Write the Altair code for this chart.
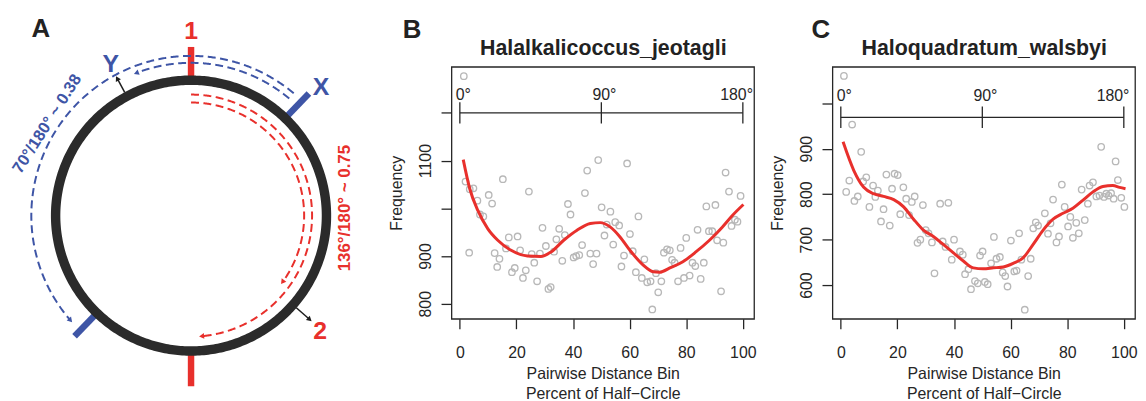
import altair as alt
import pandas as pd

FONT = "Liberation Sans"
INK = "#262626"
GRAY = "#B8B8B8"
RED = "#E8302C"
BLUE = "#3E55A6"
RING = "#2B2B2B"

# ---------------- Panel B : Halalkalicoccus_jeotagli ----------------
B_BIN = [1.4, 2.0, 3.3, 3.5, 4.8, 6.2, 7.1, 8.3, 10.2, 11.4, 12.3, 13.2, 14.0, 15.2, 16.3, 17.3, 18.4, 19.4,
         20.4, 21.3, 22.3, 23.3, 24.4, 25.4, 26.3, 27.3, 28.3, 29.2, 30.4, 31.3, 32.1, 33.3, 34.1, 35.1, 36.2,
         37.1, 38.2, 39.1, 40.2, 41.1, 42.2, 43.2, 44.2, 45.0, 46.1, 47.1, 48.3, 48.9, 50.1, 51.1, 51.9, 53.2,
         54.2, 54.9, 56.3, 57.1, 58.0, 59.1, 60.1, 61.1, 62.2, 63.1, 64.3, 65.2, 66.2, 67.4, 68.0, 69.3, 70.1,
         71.2, 72.1, 73.2, 74.2, 75.0, 75.9, 77.1, 78.0, 79.2, 80.0, 81.2, 82.2, 83.2, 84.0, 85.1, 86.2, 87.1,
         88.0, 89.2, 90.3, 90.9, 92.3, 93.1, 93.9, 95.1, 96.0, 97.2, 98.1, 99.2]
B_FREQ = [1277, 1056, 907, 1040, 1042, 1016, 987, 983, 1028, 1010, 906, 877, 894, 1061, 916, 939, 866, 875,
          941, 912, 854, 870, 1035, 904, 886, 847, 905, 959, 921, 831, 835, 909, 935, 957, 890,
          944, 1009, 987, 897, 900, 902, 923, 1032, 1079, 905, 883, 905, 1101, 1002, 943, 966, 993,
          924, 971, 964, 878, 901, 1094, 946, 910, 866, 983, 854, 893, 845, 847, 788, 864, 824,
          847, 907, 914, 912, 892, 886, 847, 917, 854, 938, 859, 886, 879, 955, 852, 886, 1004,
          952, 952, 1007, 933, 826, 928, 1075, 1035, 963, 976, 972, 1026]
B_FIT_X = [1.2, 3.5, 6.4, 9.9, 13.4, 18.1, 23.9, 28.6, 32.1, 36.7, 41.4, 46.1, 49.6, 53.1, 56.6, 60.1,
           64.8, 68.3, 70.6, 74.2, 78.8, 83.5, 88.2, 92.8, 96.3, 100.2]
B_FIT_Y = [1102, 1041, 995, 957, 933, 912, 900, 899, 908, 933, 954, 968, 970, 961, 940, 912,
           881, 867, 866, 875, 888, 909, 933, 961, 985, 1008]

# ---------------- Panel C : Haloquadratum_walsbyi ----------------
C_BIN = [1.1, 1.9, 3.0, 4.0, 4.8, 6.0, 7.2, 7.9, 9.0, 10.1, 11.4, 12.2, 13.1, 14.2, 15.1, 16.1, 17.3, 18.1,
         19.0, 20.1, 21.0, 22.1, 23.1, 24.1, 25.1, 26.1, 27.1, 28.1, 29.0, 30.0, 31.0, 32.2, 33.1, 35.1,
         36.0, 37.0, 38.0, 39.2, 40.0, 42.1, 43.1, 43.9, 45.1, 46.0, 47.4, 48.4, 49.2, 50.1, 50.9, 51.9,
         53.1, 54.1, 55.0, 56.2, 57.2, 58.1, 58.9, 60.1, 61.3, 62.1, 63.0, 63.8, 65.0, 66.2, 67.1, 68.0,
         68.9, 69.7, 72.1, 73.2, 74.1, 75.0, 76.2, 77.1, 78.1, 79.1, 80.3, 81.1, 82.0, 83.2, 84.1, 85.1,
         86.2, 87.3, 87.9, 89.1, 90.3, 91.4, 92.0, 93.0, 93.8, 94.6, 95.5, 96.4, 97.1, 97.9, 99.1, 100.2]
C_FREQ = [1060, 805, 830, 953, 785, 795, 893, 828, 837, 772, 819, 794, 808, 740, 767, 843, 731, 812,
          845, 842, 756, 815, 790, 754, 783, 795, 693, 700, 776, 721, 714, 694, 626, 779,
          696, 684, 781, 656, 700, 674, 667, 624, 635, 591, 609, 604, 665, 674, 607, 602,
          648, 706, 658, 662, 628, 620, 597, 698, 630, 632, 714, 656, 546, 620, 658, 725,
          738, 731, 758, 713, 736, 788, 694, 707, 821, 772, 729, 750, 704, 737, 714, 810,
          743, 779, 819, 826, 795, 797, 904, 794, 801, 797, 802, 790, 872, 831, 792, 772]
C_FIT_X = [0.8, 4.6, 8.1, 11.6, 15.1, 18.7, 22.2, 25.7, 29.2, 32.7, 36.3, 39.8, 43.3, 46.8, 50.3, 53.9,
           57.4, 60.9, 64.4, 67.9, 71.5, 75.0, 78.5, 82.0, 85.6, 89.1, 92.6, 96.1, 98.5, 100.6]
C_FIT_Y = [915, 852, 815, 801, 795, 788, 772, 745, 721, 707, 689, 671, 653, 638, 636, 638,
           640, 648, 660, 689, 721, 745, 758, 769, 787, 805, 817, 819, 815, 812]

X_TICKS = [0, 20, 40, 60, 80, 100]
DEG_TICKS = [0, 50, 100]
DEG_LABELS = ["0°", "90°", "180°"]
B_DEG_LABEL_X = [1.2, 51.1, 97.8]
C_DEG_LABEL_X = [1.2, 51.1, 96.2]
B_YTICKS = [800, 900, 1000, 1100, 1200]
B_YSHOWN = [800, 900, 1100]
C_YTICKS = [600, 700, 800, 900, 1000]
C_YSHOWN = [600, 700, 800, 900]

# ---------------- Panel A : circle schematic (angles clockwise from top) ----------------
ARC_R = [136.5, 161, 154, 122, 114]
ARC_START = [0, 40, 40, 0, 0]
ARC_END = [362, -131, -21, 175, 126]
ARC_COLOR = [RING, BLUE, BLUE, RED, RED]
ARC_WIDTH = [9.5, 2, 2, 2, 2]
ARC_HEAD = [False, True, True, True, True]

SEG_DEG = [0, 180, 44, 224]
SEG_R1 = [134, 134, 134, 134]
SEG_R2 = [170, 172, 171, 169]
SEG_COLOR = [RED, RED, BLUE, BLUE]

PTR_DEG = [331.7, 131.2]
PTR_R1 = [141, 141]
PTR_R2 = [157, 159]

TXT = ["1", "2", "X", "Y", "70°/180° ~ 0.38", "136°/180° ~ 0.75"]
TXT_DEG = [0, 131.7, 45.4, 332.1, 302.5, 87.2]
TXT_R = [186.5, 174.2, 183.9, 172.9, 172, 155.2]
TXT_COLOR = [RED, RED, BLUE, BLUE, BLUE, RED]
TXT_SIZE = [25, 25, 25, 25, 16.5, 17]
TXT_ROT = [0, 0, 0, 0, 302.5, 270]

WA, HA = 368, 254
W, H = 305, 254
XDOM = [-2.96, 103.96]

xsA = alt.Scale(domain=[-184.5, 183.5], nice=False, zero=False)
ysA = alt.Scale(domain=[-104, 150], nice=False, zero=False)


def ax(field):
    return alt.X(field, scale=xsA, axis=None)


def ay(field):
    return alt.Y(field, scale=ysA, axis=None)


polar = lambda r, d: (f"datum.{r}*sin(datum.{d}*PI/180)", f"datum.{r}*cos(datum.{d}*PI/180)")

layersA = []
seg_df = pd.DataFrame({"deg": SEG_DEG, "r1": SEG_R1, "r2": SEG_R2, "color": SEG_COLOR})
x1e, y1e = polar("r1", "deg")
x2e, y2e = polar("r2", "deg")
layersA.append(
    alt.Chart(seg_df).transform_calculate(x1=x1e, y1=y1e, x2=x2e, y2=y2e)
    .mark_rule(strokeWidth=6.5, strokeCap="butt")
    .encode(x=ax("x1:Q"), y=ay("y1:Q"), x2="x2:Q", y2="y2:Q", color=alt.Color("color:N", scale=None))
)
for r, s, e, c, w in zip(ARC_R, ARC_START, ARC_END, ARC_COLOR, ARC_WIDTH):
    mk = dict(color=c, strokeWidth=w, strokeCap="butt")
    if w < 5:
        mk["strokeDash"] = [8, 4.5]
    layersA.append(
        alt.Chart(alt.sequence(0, 1.0001, 0.0025, as_="t"))
        .transform_calculate(deg=f"{s} + datum.t*({e} - {s})")
        .transform_calculate(px=f"{r}*sin(datum.deg*PI/180)", py=f"{r}*cos(datum.deg*PI/180)")
        .mark_line(**mk)
        .encode(x=ax("px:Q"), y=ay("py:Q"), order="t:Q")
    )
head_df = pd.DataFrame({"r": ARC_R, "start": ARC_START, "end": ARC_END, "color": ARC_COLOR, "head": ARC_HEAD})
hx, hy = polar("r", "end")
layersA.append(
    alt.Chart(head_df).transform_filter("datum.head")
    .transform_calculate(hx=hx, hy=hy,
                         rot0="datum.end < datum.start ? datum.end - 90 : datum.end + 90")
    .transform_calculate(rot="((datum.rot0 % 360) + 360) % 360")
    .mark_point(shape="triangle-up", filled=True, size=34, opacity=1)
    .encode(x=ax("hx:Q"), y=ay("hy:Q"), color=alt.Color("color:N", scale=None),
            angle=alt.Angle("rot:Q", scale=None))
)
ptr_df = pd.DataFrame({"deg": PTR_DEG, "r1": PTR_R1, "r2": PTR_R2})
layersA.append(
    alt.Chart(ptr_df).transform_calculate(x1=x1e, y1=y1e, x2=x2e, y2=y2e)
    .mark_rule(strokeWidth=1.5, color="#1E1E1E")
    .encode(x=ax("x1:Q"), y=ay("y1:Q"), x2="x2:Q", y2="y2:Q")
)
layersA.append(
    alt.Chart(ptr_df).transform_calculate(x2=x2e, y2=y2e)
    .mark_point(shape="triangle-up", filled=True, size=34, opacity=1, color="#1E1E1E")
    .encode(x=ax("x2:Q"), y=ay("y2:Q"), angle=alt.Angle("deg:Q", scale=None))
)
txt_df = pd.DataFrame({"t": TXT, "deg": TXT_DEG, "r": TXT_R, "color": TXT_COLOR, "size": TXT_SIZE, "rot": TXT_ROT})
tx, ty = polar("r", "deg")
layersA.append(
    alt.Chart(txt_df).transform_calculate(tx=tx, ty=ty)
    .mark_text(fontWeight="bold", align="center", baseline="middle", font=FONT)
    .encode(x=ax("tx:Q"), y=ay("ty:Q"), text="t:N", color=alt.Color("color:N", scale=None),
            size=alt.Size("size:Q", scale=None), angle=alt.Angle("rot:Q", scale=None))
)

panelA = alt.layer(*layersA).properties(
    width=WA, height=HA,
    view=alt.ViewBackground(fill="white", strokeWidth=0),
    title=alt.TitleParams("A", anchor="start", frame="group", dx=23.7, fontSize=26, fontWeight="bold",
                          baseline="alphabetic", offset=-44, color="#222222", font=FONT),
)


def scatter_panel(letter, name, bins, freqs, fit_x, fit_y, ydom, yticks, yshown,
                  bracket_y, half, lab_x, lab_y, letter_dx):
    xs = alt.Scale(domain=XDOM, nice=False, zero=False)
    ys = alt.Scale(domain=ydom, nice=False, zero=False)
    cond = " || ".join(f"datum.value == {v}" for v in yshown)
    yaxis = alt.Axis(values=yticks, format="d", labelExpr=f"({cond}) ? datum.label : ''",
                     title="Frequency", grid=False, domain=False, tickSize=10.5, tickWidth=1.3,
                     tickColor=INK, labelAngle=270, labelAlign="center", labelBaseline="alphabetic",
                     labelPadding=11.1, labelFontSize=16, labelColor=INK, labelOverlap=False,
                     labelFont=FONT, titleFont=FONT,
                     titleFontSize=16, titleFontWeight="normal", titleColor=INK, titleAngle=270,
                     titleBaseline="alphabetic", titleAlign="center", titleX=-50.3, titleY=H / 2)
    xaxis = alt.Axis(values=X_TICKS, format="d",
                     title=["Pairwise Distance Bin", "Percent of Half\u2212Circle"],
                     grid=False, domain=False, tickSize=10, tickWidth=1.3, tickColor=INK,
                     labelFontSize=16, labelColor=INK, labelBaseline="alphabetic", labelPadding=28.7,
                     labelAngle=0, labelOverlap=False, labelFlush=False, labelFont=FONT, titleFont=FONT,
                     titleFontSize=16, titleFontWeight="normal", titleColor=INK,
                     titleBaseline="alphabetic", titleLineHeight=20, titleX=W / 2, titleY=60,
                     titleAlign="center")
    taxis = alt.Axis(orient="top", title=name, labels=False, ticks=False, domain=False, grid=False,
                     titleFont=FONT, titleFontSize=21.5, titleFontWeight="bold", titleColor="#222222",
                     titleBaseline="alphabetic", titleX=W / 2, titleY=-12.3, titleAlign="center")

    pts = alt.Chart(pd.DataFrame({"bin": bins, "freq": freqs})).mark_point(
        shape="circle", filled=False, size=42, color=GRAY, strokeWidth=1.35, opacity=1
    ).encode(x=alt.X("bin:Q", scale=xs, axis=xaxis), y=alt.Y("freq:Q", scale=ys, axis=yaxis))
    fit = alt.Chart(pd.DataFrame({"bin": fit_x, "freq": fit_y})).mark_line(
        color=RED, strokeWidth=3, interpolate="monotone"
    ).encode(x=alt.X("bin:Q", scale=xs, axis=None), y=alt.Y("freq:Q", scale=ys, axis=yaxis))
    hrule = alt.Chart(pd.DataFrame({"x1": [DEG_TICKS[0]], "x2": [DEG_TICKS[-1]], "y": [bracket_y]})).mark_rule(
        color=INK, strokeWidth=1.3
    ).encode(x=alt.X("x1:Q", scale=xs, axis=taxis), x2="x2:Q", y=alt.Y("y:Q", scale=ys, axis=yaxis))
    vt = alt.Chart(pd.DataFrame({"x": DEG_TICKS, "y1": [bracket_y - half] * 3, "y2": [bracket_y + half] * 3})).mark_rule(
        color=INK, strokeWidth=1.3
    ).encode(x=alt.X("x:Q", scale=xs, axis=None), y=alt.Y("y1:Q", scale=ys, axis=yaxis), y2="y2:Q")
    labs = alt.Chart(pd.DataFrame({"x": lab_x, "y": [lab_y] * 3, "t": DEG_LABELS})).mark_text(
        fontSize=16, color=INK, baseline="alphabetic", align="center", font=FONT
    ).encode(x=alt.X("x:Q", scale=xs, axis=None), y=alt.Y("y:Q", scale=ys, axis=yaxis), text="t:N")

    return alt.layer(pts, fit, hrule, vt, labs).resolve_axis(x="independent").properties(
        width=W, height=H,
        view=alt.ViewBackground(stroke=INK, strokeWidth=1.3),
        title=alt.TitleParams(letter, anchor="start", frame="group", dx=letter_dx, fontSize=26,
                              fontWeight="bold", baseline="alphabetic", offset=-26.7, color="#222222",
                              font=FONT),
    )


panelB = scatter_panel("B", "Halalkalicoccus_jeotagli", B_BIN, B_FREQ, B_FIT_X, B_FIT_Y,
                       [768.4, 1296.6], B_YTICKS, B_YSHOWN, 1200, 22.4, B_DEG_LABEL_X, 1226, -49)
panelC = scatter_panel("C", "Haloquadratum_walsbyi", C_BIN, C_FREQ, C_FIT_X, C_FIT_Y,
                       [526, 1080], C_YTICKS, C_YSHOWN, 969, 23.5, C_DEG_LABEL_X, 1004, -21)

chart = alt.hconcat(panelA, panelB, panelC, spacing=79, bounds="flush").properties(
    padding={"left": 0, "top": 5.7, "right": 0, "bottom": 0}
).configure(font=FONT).configure_view(strokeWidth=0)

chart.save("out.html", embed_options={"renderer": "svg", "actions": False})
